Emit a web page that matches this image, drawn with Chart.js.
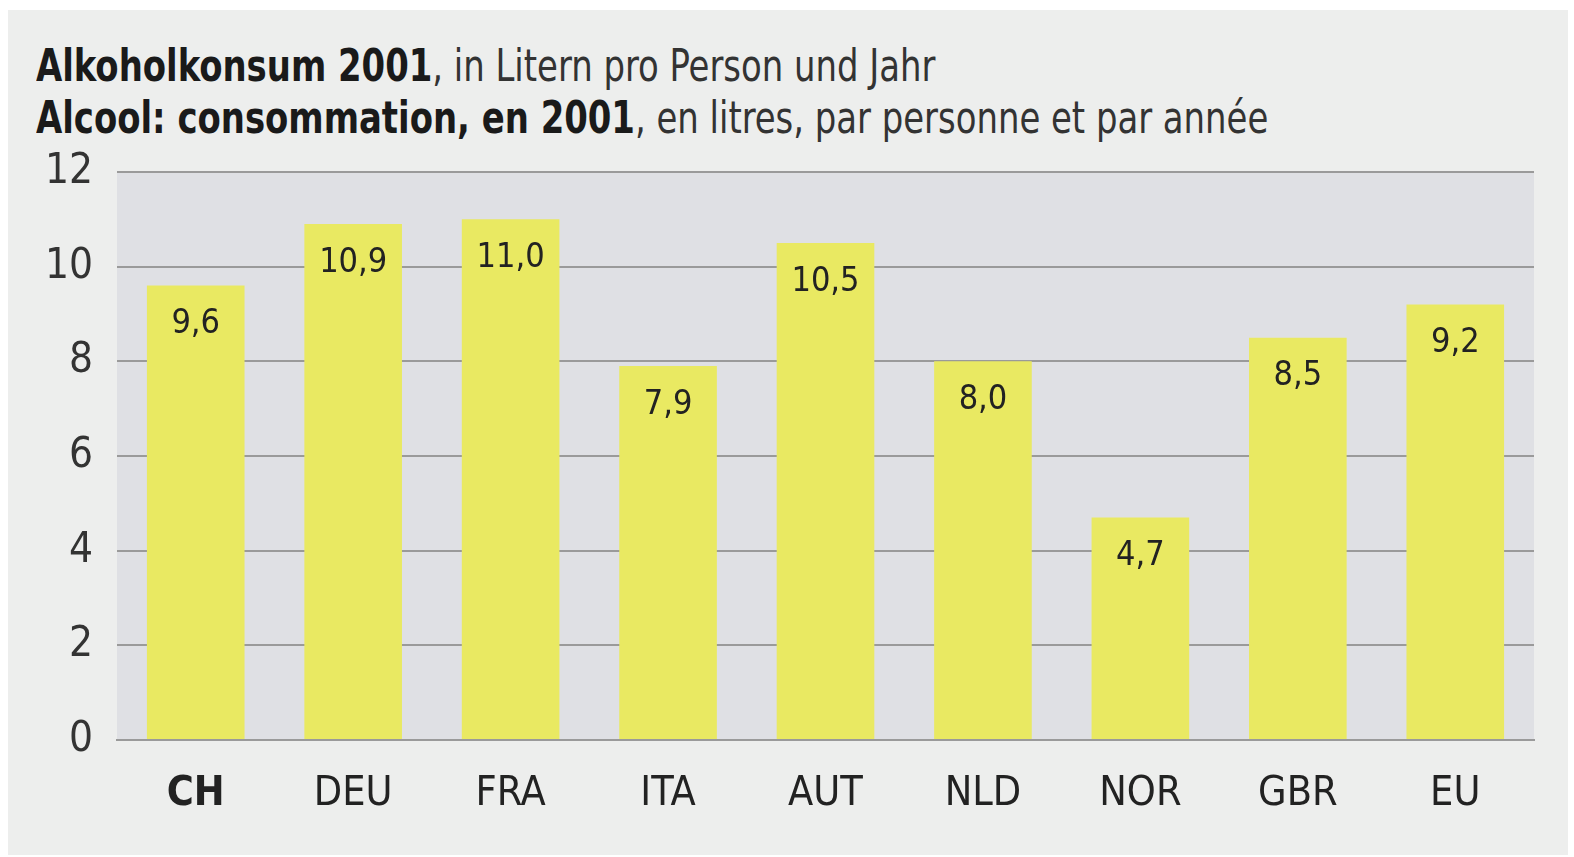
<!DOCTYPE html>
<html>
<head><meta charset="utf-8"><title>Alkoholkonsum 2001</title>
<script src="https://cdn.jsdelivr.net/npm/chart.js"></script>
<style>
  html,body{margin:0;padding:0;background:#fff;}
  body{width:1574px;height:857px;position:relative;overflow:hidden;font-family:"DejaVu Sans Condensed",sans-serif;}
  #panel{position:absolute;left:8px;top:10px;width:1560px;height:845px;background:#edeeed;}
  #title{position:absolute;left:36px;top:40px;color:#222;font-size:44px;line-height:52px;white-space:nowrap;transform:scaleX(0.856);transform-origin:0 0;}
  #title b{font-weight:bold;color:#1a1a1a;}
  #title span{color:#333;}
  canvas{position:absolute;left:0;top:0;}
</style>
</head>
<body>
<div id="panel"></div>
<div id="title">
  <div><b>Alkoholkonsum 2001</b><span>, in Litern pro Person und Jahr</span></div>
  <div><b>Alcool: consommation, en 2001</b><span>, en litres, par personne et par année</span></div>
</div>
<canvas id="c" width="1574" height="857"></canvas>
<script>
const countries = ['CH','DEU','FRA','ITA','AUT','NLD','NOR','GBR','EU'];
const litres = [9.6, 10.9, 11.0, 7.9, 10.5, 8.0, 4.7, 8.5, 9.2];
const yTicks = [0, 2, 4, 6, 8, 10, 12];

const FONT = '"DejaVu Sans Condensed",sans-serif';

// grey plot area behind the bars
const plotBg = {
  id: 'plotBg',
  beforeDraw(chart) {
    const a = chart.chartArea, ctx = chart.ctx;
    ctx.save();
    ctx.fillStyle = '#dfe0e4';
    ctx.fillRect(a.left, a.top, a.right - a.left, a.bottom - a.top);
    ctx.restore();
  }
};

// values written inside the top of each bar, decimal comma
const valueLabels = {
  id: 'valueLabels',
  afterDatasetsDraw(chart) {
    const ctx = chart.ctx;
    const meta = chart.getDatasetMeta(0);
    ctx.save();
    ctx.font = '34px ' + FONT;
    ctx.fillStyle = '#222';
    ctx.textAlign = 'center';
    ctx.textBaseline = 'middle';
    meta.data.forEach((bar, i) => {
      ctx.fillText(litres[i].toFixed(1).replace('.', ','), bar.x, bar.y + 39);
    });
    ctx.restore();
  }
};

new Chart(document.getElementById('c'), {
  type: 'bar',
  data: {
    labels: countries,
    datasets: [{ data: litres, backgroundColor: '#e9e962', barPercentage: 0.62, categoryPercentage: 1 }]
  },
  options: {
    responsive: false,
    animation: false,
    plugins: { legend: { display: false }, tooltip: { enabled: false } },
    layout: { padding: { top: 172, right: 40, left: 0, bottom: 0 } },
    scales: {
      x: {
        grid: { display: false, drawTicks: false },
        border: { color: '#9a9a9a', width: 2 },
        ticks: {
          color: '#222', padding: 30,
          font: ctx => ({ family: FONT, size: 41, weight: ctx.index === 0 ? 'bold' : 'normal' })
        },
        afterFit: s => { s.height = 117; }
      },
      y: {
        min: 0, max: 12,
        afterBuildTicks: s => { s.ticks = yTicks.map(v => ({ value: v })); },
        grid: { color: '#9a9a9a', lineWidth: 2, drawTicks: false },
        border: { display: false },
        ticks: { color: '#333', padding: 24, font: { family: FONT, size: 42 } },
        afterFit: s => { s.width = 117; }
      }
    }
  },
  plugins: [plotBg, valueLabels]
});
</script>
</body>
</html>
